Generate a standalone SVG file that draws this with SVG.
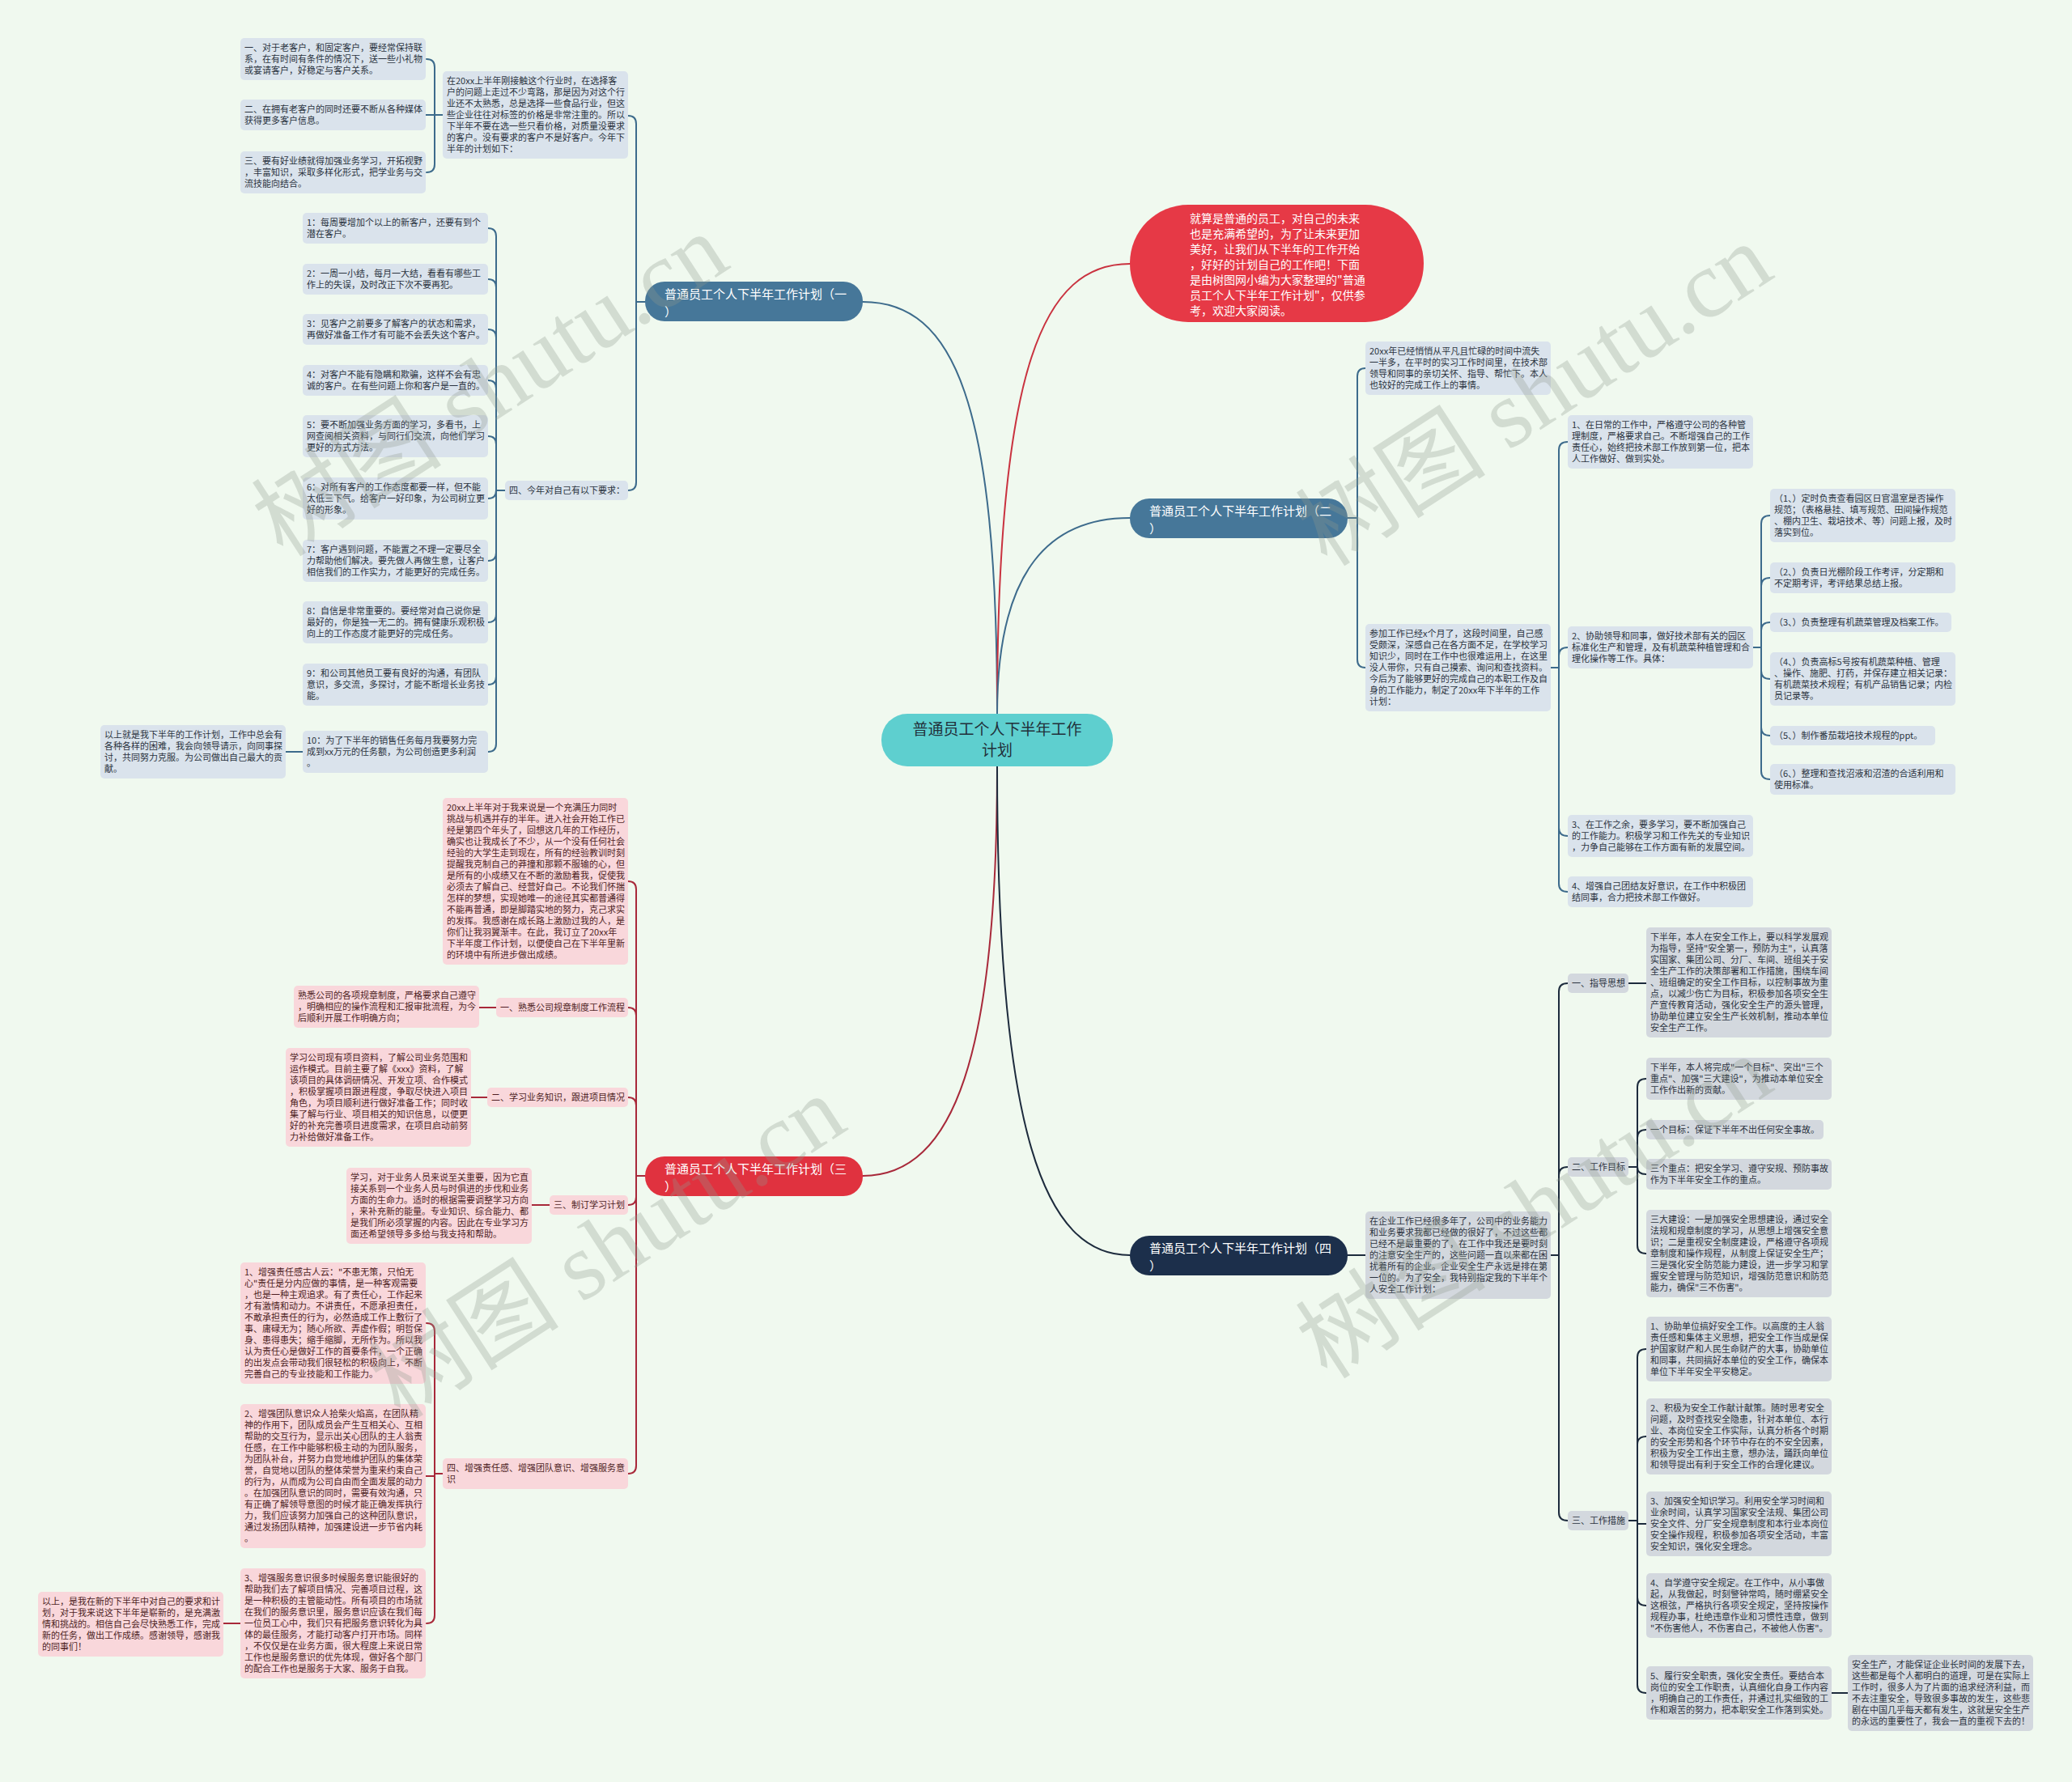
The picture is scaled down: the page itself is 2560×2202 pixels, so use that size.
<svg xmlns="http://www.w3.org/2000/svg" width="2560" height="2202" viewBox="0 0 2560 2202">
<style>
.t{font-family:"Noto Sans CJK SC","Noto Sans",sans-serif;font-size:11px;fill:#2b3340}
.tp{fill:#4e1e24}
.bb{fill:#dae3ec}
.bg{fill:#d3d8de}
.bp{fill:#f9d7db}
.c{fill:none;stroke-width:2;stroke-linecap:round}
.cb{stroke:#3d6b8c}
.cr{stroke:#a8293a}
.cn{stroke:#1d2b3d}
.cred{stroke:#c9323f}
.br{font-family:"Noto Sans CJK SC","Noto Sans",sans-serif;font-size:15px;fill:#ffffff}
.wm{font-family:"Liberation Serif","Noto Sans CJK SC",serif;font-size:118px;fill:#8f9a8f;opacity:.3}
</style>
<rect x="0" y="0" width="2560" height="2202" fill="#f0f9ef"/>

<g id="connectors">
<path class="c cb" d="M1232,882 C1232,500 1180,373 1066,373"/>
<path class="c cred" d="M1232,882 C1232,450 1290,326 1396,326"/>
<path class="c cb" d="M1232,882 C1232,700 1300,640 1396,640"/>
<path class="c cr" d="M1232,947 C1232,1300 1180,1453 1066,1453"/>
<path class="c cn" d="M1232,947 C1232,1400 1290,1551 1396,1551"/>

<path class="c cb" d="M797,373 H786 V153 Q786,143 776,143"/>
<path class="c cb" d="M786,373 V596 Q786,606 776,606"/>
<path class="c cb" d="M547,142 H537 V83 Q537,73 527,73"/>
<path class="c cb" d="M537,142 H526"/>
<path class="c cb" d="M537,142 V203 Q537,213 527,213"/>
<path class="c cb" d="M624,606 H613 V292 Q613,282 603,282"/>
<path class="c cb" d="M613,606 V355 Q613,345 603,345"/>
<path class="c cb" d="M613,606 V417 Q613,407 603,407"/>
<path class="c cb" d="M613,606 V480 Q613,470 603,470"/>
<path class="c cb" d="M613,606 V549 Q613,539 603,539"/>
<path class="c cb" d="M613,606 Q613,616 603,616"/>
<path class="c cb" d="M613,606 V683 Q613,693 603,693"/>
<path class="c cb" d="M613,606 V759 Q613,769 603,769"/>
<path class="c cb" d="M613,606 V836 Q613,846 603,846"/>
<path class="c cb" d="M613,606 V919 Q613,929 603,929"/>
<path class="c cb" d="M374,929 H353"/>

<path class="c cr" d="M797,1453 H786 V1099 Q786,1089 776,1089"/>
<path class="c cr" d="M786,1453 V1255 Q786,1245 776,1245"/>
<path class="c cr" d="M786,1453 V1366 Q786,1356 776,1356"/>
<path class="c cr" d="M786,1453 V1479 Q786,1489 776,1489"/>
<path class="c cr" d="M786,1453 V1811 Q786,1821 776,1821"/>
<path class="c cr" d="M613,1245 H592"/>
<path class="c cr" d="M602,1356 H582"/>
<path class="c cr" d="M679,1489 H657"/>
<path class="c cr" d="M547,1821 H537 V1645 Q537,1635 527,1635"/>
<path class="c cr" d="M537,1821 V1824 H526"/>
<path class="c cr" d="M537,1821 V1996 Q537,2006 527,2006"/>
<path class="c cr" d="M297,2006 H276"/>

<path class="c cb" d="M1665,640 H1677 V465 Q1677,455 1687,455"/>
<path class="c cb" d="M1677,640 V815 Q1677,825 1687,825"/>
<path class="c cb" d="M1916,825 H1926 V556 Q1926,546 1937,546"/>
<path class="c cb" d="M1926,825 V810 Q1926,800 1937,800"/>
<path class="c cb" d="M1926,825 V1023 Q1926,1033 1937,1033"/>
<path class="c cb" d="M1926,825 V1092 Q1926,1102 1937,1102"/>
<path class="c cb" d="M2166,800 H2176 V647 Q2176,637 2187,637"/>
<path class="c cb" d="M2176,800 V724 Q2176,714 2187,714"/>
<path class="c cb" d="M2176,800 V779 Q2176,769 2187,769"/>
<path class="c cb" d="M2176,800 V829 Q2176,839 2187,839"/>
<path class="c cb" d="M2176,800 V899 Q2176,909 2187,909"/>
<path class="c cb" d="M2176,800 V953 Q2176,963 2187,963"/>

<path class="c cn" d="M1665,1551 H1687"/>
<path class="c cn" d="M1916,1551 H1926 V1225 Q1926,1215 1937,1215"/>
<path class="c cn" d="M1926,1551 V1452 Q1926,1442 1937,1442"/>
<path class="c cn" d="M1926,1551 V1869 Q1926,1879 1937,1879"/>
<path class="c cn" d="M2012,1215 H2034"/>
<path class="c cn" d="M2012,1442 H2023 V1343 Q2023,1333 2034,1333"/>
<path class="c cn" d="M2023,1442 V1406 Q2023,1396 2034,1396"/>
<path class="c cn" d="M2023,1442 Q2023,1451 2034,1451"/>
<path class="c cn" d="M2023,1442 V1539 Q2023,1549 2034,1549"/>
<path class="c cn" d="M2012,1879 H2023 V1677 Q2023,1667 2034,1667"/>
<path class="c cn" d="M2023,1879 V1785 Q2023,1775 2034,1775"/>
<path class="c cn" d="M2023,1879 V1883 H2034"/>
<path class="c cn" d="M2023,1879 V1974 Q2023,1984 2034,1984"/>
<path class="c cn" d="M2023,1879 V2082 Q2023,2092 2034,2092"/>
<path class="c cn" d="M2263,2092 H2283"/>
</g>

<g id="center"><rect x="1089" y="882" width="286" height="65" rx="32" fill="#5ecfcf"/>
<text x="1232" y="908" text-anchor="middle" style="font-family:'Noto Sans CJK SC',sans-serif;font-size:19px;fill:#22303a"><tspan x="1232">普通员工个人下半年工作</tspan><tspan x="1232" dy="26">计划</tspan></text></g>

<g id="intro"><rect x="1396" y="253" width="363" height="145" rx="72" fill="#e63946"/>
<text x="1470" y="275" style="font-family:'Noto Sans CJK SC',sans-serif;font-size:14px;fill:#ffffff"><tspan x="1470">就算是普通的员工，对自己的未来</tspan><tspan x="1470" dy="19">也是充满希望的，为了让未来更加</tspan><tspan x="1470" dy="19">美好，让我们从下半年的工作开始</tspan><tspan x="1470" dy="19">，好好的计划自己的工作吧！下面</tspan><tspan x="1470" dy="19">是由树图网小编为大家整理的"普通</tspan><tspan x="1470" dy="19">员工个人下半年工作计划"，仅供参</tspan><tspan x="1470" dy="19">考，欢迎大家阅读。</tspan></text></g>

<g id="branch1"><rect x="797" y="348" width="269" height="49" rx="24" fill="#467799"/>
<text class="br" x="821" y="369"><tspan x="821">普通员工个人下半年工作计划（一</tspan><tspan x="821" dy="22">）</tspan></text></g>
<g id="branch2"><rect x="1396" y="616" width="269" height="49" rx="24" fill="#467799"/>
<text class="br" x="1420" y="637"><tspan x="1420">普通员工个人下半年工作计划（二</tspan><tspan x="1420" dy="22">）</tspan></text></g>
<g id="branch3"><rect x="797" y="1429" width="269" height="49" rx="24" fill="#e0323f"/>
<text class="br" x="821" y="1450"><tspan x="821">普通员工个人下半年工作计划（三</tspan><tspan x="821" dy="22">）</tspan></text></g>
<g id="branch4"><rect x="1396" y="1527" width="269" height="49" rx="24" fill="#1c2f4b"/>
<text class="br" x="1420" y="1548"><tspan x="1420">普通员工个人下半年工作计划（四</tspan><tspan x="1420" dy="22">）</tspan></text></g>

<!-- Section 1 -->
<g id="s1-a0"><rect class="bb" x="547" y="88" width="229" height="108" rx="5"/>
<text class="t" x="552" y="104"><tspan x="552">在20xx上半年刚接触这个行业时，在选择客</tspan><tspan x="552" dy="14">户的问题上走过不少弯路，那是因为对这个行</tspan><tspan x="552" dy="14">业还不太熟悉，总是选择一些食品行业，但这</tspan><tspan x="552" dy="14">些企业往往对标签的价格是非常注重的。所以</tspan><tspan x="552" dy="14">下半年不要在选一些只看价格，对质量没要求</tspan><tspan x="552" dy="14">的客户。没有要求的客户不是好客户。今年下</tspan><tspan x="552" dy="14">半年的计划如下：</tspan></text></g>
<g id="s1-a1"><rect class="bb" x="297" y="47" width="229" height="52" rx="5"/>
<text class="t" x="302" y="63"><tspan x="302">一、对于老客户，和固定客户，要经常保持联</tspan><tspan x="302" dy="14">系，在有时间有条件的情况下，送一些小礼物</tspan><tspan x="302" dy="14">或宴请客户，好稳定与客户关系。</tspan></text></g>
<g id="s1-a2"><rect class="bb" x="297" y="123" width="229" height="38" rx="5"/>
<text class="t" x="302" y="139"><tspan x="302">二、在拥有老客户的同时还要不断从各种媒体</tspan><tspan x="302" dy="14">获得更多客户信息。</tspan></text></g>
<g id="s1-a3"><rect class="bb" x="297" y="187" width="229" height="52" rx="5"/>
<text class="t" x="302" y="203"><tspan x="302">三、要有好业绩就得加强业务学习，开拓视野</tspan><tspan x="302" dy="14">，丰富知识，采取多样化形式，把学业务与交</tspan><tspan x="302" dy="14">流技能向结合。</tspan></text></g>
<g id="s1-l4"><rect class="bb" x="624" y="594" width="152" height="24" rx="5"/>
<text class="t" x="629" y="610">四、今年对自己有以下要求：</text></g>
<g id="s1-i1"><rect class="bb" x="374" y="263" width="229" height="38" rx="5"/>
<text class="t" x="379" y="279"><tspan x="379">1：每周要增加个以上的新客户，还要有到个</tspan><tspan x="379" dy="14">潜在客户。</tspan></text></g>
<g id="s1-i2"><rect class="bb" x="374" y="326" width="229" height="38" rx="5"/>
<text class="t" x="379" y="342"><tspan x="379">2：一周一小结，每月一大结，看看有哪些工</tspan><tspan x="379" dy="14">作上的失误，及时改正下次不要再犯。</tspan></text></g>
<g id="s1-i3"><rect class="bb" x="374" y="388" width="229" height="38" rx="5"/>
<text class="t" x="379" y="404"><tspan x="379">3：见客户之前要多了解客户的状态和需求，</tspan><tspan x="379" dy="14">再做好准备工作才有可能不会丢失这个客户。</tspan></text></g>
<g id="s1-i4"><rect class="bb" x="374" y="451" width="229" height="38" rx="5"/>
<text class="t" x="379" y="467"><tspan x="379">4：对客户不能有隐瞒和欺骗，这样不会有忠</tspan><tspan x="379" dy="14">诚的客户。在有些问题上你和客户是一直的。</tspan></text></g>
<g id="s1-i5"><rect class="bb" x="374" y="513" width="229" height="52" rx="5"/>
<text class="t" x="379" y="529"><tspan x="379">5：要不断加强业务方面的学习，多看书，上</tspan><tspan x="379" dy="14">网查阅相关资料，与同行们交流，向他们学习</tspan><tspan x="379" dy="14">更好的方式方法。</tspan></text></g>
<g id="s1-i6"><rect class="bb" x="374" y="590" width="229" height="52" rx="5"/>
<text class="t" x="379" y="606"><tspan x="379">6：对所有客户的工作态度都要一样，但不能</tspan><tspan x="379" dy="14">太低三下气。给客户一好印象，为公司树立更</tspan><tspan x="379" dy="14">好的形象。</tspan></text></g>
<g id="s1-i7"><rect class="bb" x="374" y="667" width="229" height="52" rx="5"/>
<text class="t" x="379" y="683"><tspan x="379">7：客户遇到问题，不能置之不理一定要尽全</tspan><tspan x="379" dy="14">力帮助他们解决。要先做人再做生意，让客户</tspan><tspan x="379" dy="14">相信我们的工作实力，才能更好的完成任务。</tspan></text></g>
<g id="s1-i8"><rect class="bb" x="374" y="743" width="229" height="52" rx="5"/>
<text class="t" x="379" y="759"><tspan x="379">8：自信是非常重要的。要经常对自己说你是</tspan><tspan x="379" dy="14">最好的，你是独一无二的。拥有健康乐观积极</tspan><tspan x="379" dy="14">向上的工作态度才能更好的完成任务。</tspan></text></g>
<g id="s1-i9"><rect class="bb" x="374" y="820" width="229" height="52" rx="5"/>
<text class="t" x="379" y="836"><tspan x="379">9：和公司其他员工要有良好的沟通，有团队</tspan><tspan x="379" dy="14">意识，多交流，多探讨，才能不断增长业务技</tspan><tspan x="379" dy="14">能。</tspan></text></g>
<g id="s1-i10"><rect class="bb" x="374" y="903" width="229" height="52" rx="5"/>
<text class="t" x="379" y="919"><tspan x="379">10：为了下半年的销售任务每月我要努力完</tspan><tspan x="379" dy="14">成到xx万元的任务额，为公司创造更多利润</tspan><tspan x="379" dy="14">。</tspan></text></g>
<g id="s1-f"><rect class="bb" x="124" y="896" width="229" height="66" rx="5"/>
<text class="t" x="129" y="912"><tspan x="129">以上就是我下半年的工作计划，工作中总会有</tspan><tspan x="129" dy="14">各种各样的困难，我会向领导请示，向同事探</tspan><tspan x="129" dy="14">讨，共同努力克服。为公司做出自己最大的贡</tspan><tspan x="129" dy="14">献。</tspan></text></g>

<!-- Section 3 -->
<g id="s3-p0"><rect class="bp" x="547" y="986" width="229" height="206" rx="5"/>
<text class="t tp" x="552" y="1002"><tspan x="552">20xx上半年对于我来说是一个充满压力同时</tspan><tspan x="552" dy="14">挑战与机遇并存的半年。进入社会开始工作已</tspan><tspan x="552" dy="14">经是第四个年头了，回想这几年的工作经历，</tspan><tspan x="552" dy="14">确实也让我成长了不少，从一个没有任何社会</tspan><tspan x="552" dy="14">经验的大学生走到现在，所有的经验教训时刻</tspan><tspan x="552" dy="14">提醒我克制自己的莽撞和那颗不服输的心，但</tspan><tspan x="552" dy="14">是所有的小成绩又在不断的激励着我，促使我</tspan><tspan x="552" dy="14">必须去了解自己、经营好自己。不论我们怀揣</tspan><tspan x="552" dy="14">怎样的梦想，实现她唯一的途径其实都普通得</tspan><tspan x="552" dy="14">不能再普通，即是脚踏实地的努力，克己求实</tspan><tspan x="552" dy="14">的发挥。我感谢在成长路上激励过我的人，是</tspan><tspan x="552" dy="14">你们让我羽翼渐丰。在此，我订立了20xx年</tspan><tspan x="552" dy="14">下半年度工作计划，以便使自己在下半年里新</tspan><tspan x="552" dy="14">的环境中有所进步做出成绩。</tspan></text></g>
<g id="s3-l1"><rect class="bp" x="613" y="1233" width="163" height="24" rx="5"/>
<text class="t tp" x="618" y="1249">一、熟悉公司规章制度工作流程</text></g>
<g id="s3-b1"><rect class="bp" x="363" y="1218" width="229" height="52" rx="5"/>
<text class="t tp" x="368" y="1234"><tspan x="368">熟悉公司的各项规章制度，严格要求自己遵守</tspan><tspan x="368" dy="14">，明确相应的操作流程和汇报审批流程，为今</tspan><tspan x="368" dy="14">后顺利开展工作明确方向；</tspan></text></g>
<g id="s3-l2"><rect class="bp" x="602" y="1344" width="174" height="24" rx="5"/>
<text class="t tp" x="607" y="1360">二、学习业务知识，跟进项目情况</text></g>
<g id="s3-b2"><rect class="bp" x="353" y="1295" width="229" height="122" rx="5"/>
<text class="t tp" x="358" y="1311"><tspan x="358">学习公司现有项目资料，了解公司业务范围和</tspan><tspan x="358" dy="14">运作模式。目前主要了解《xxx》资料，了解</tspan><tspan x="358" dy="14">该项目的具体调研情况、开发立项、合作模式</tspan><tspan x="358" dy="14">，积极掌握项目跟进程度，争取尽快进入项目</tspan><tspan x="358" dy="14">角色，为项目顺利进行做好准备工作；同时收</tspan><tspan x="358" dy="14">集了解与行业、项目相关的知识信息，以便更</tspan><tspan x="358" dy="14">好的补充完善项目进度需求，在项目启动前努</tspan><tspan x="358" dy="14">力补给做好准备工作。</tspan></text></g>
<g id="s3-l3"><rect class="bp" x="679" y="1477" width="97" height="24" rx="5"/>
<text class="t tp" x="684" y="1493">三、制订学习计划</text></g>
<g id="s3-b3"><rect class="bp" x="428" y="1443" width="229" height="94" rx="5"/>
<text class="t tp" x="433" y="1459"><tspan x="433">学习，对于业务人员来说至关重要，因为它直</tspan><tspan x="433" dy="14">接关系到一个业务人员与时俱进的步伐和业务</tspan><tspan x="433" dy="14">方面的生命力。适时的根据需要调整学习方向</tspan><tspan x="433" dy="14">，来补充新的能量。专业知识、综合能力、都</tspan><tspan x="433" dy="14">是我们所必须掌握的内容。因此在专业学习方</tspan><tspan x="433" dy="14">面还希望领导多多给与我支持和帮助。</tspan></text></g>
<g id="s3-l4"><rect class="bp" x="547" y="1802" width="229" height="38" rx="5"/>
<text class="t tp" x="552" y="1818"><tspan x="552">四、增强责任感、增强团队意识、增强服务意</tspan><tspan x="552" dy="14">识</tspan></text></g>
<g id="s3-i1"><rect class="bp" x="297" y="1560" width="229" height="150" rx="5"/>
<text class="t tp" x="302" y="1576"><tspan x="302">1、增强责任感古人云："不患无策，只怕无</tspan><tspan x="302" dy="14">心"责任是分内应做的事情，是一种客观需要</tspan><tspan x="302" dy="14">，也是一种主观追求。有了责任心，工作起来</tspan><tspan x="302" dy="14">才有激情和动力。不讲责任，不愿承担责任，</tspan><tspan x="302" dy="14">不敢承担责任的行为，必然造成工作上敷衍了</tspan><tspan x="302" dy="14">事、庸碌无为；随心所欲、弄虚作假；明哲保</tspan><tspan x="302" dy="14">身、患得患失；缩手缩脚，无所作为。所以我</tspan><tspan x="302" dy="14">认为责任心是做好工作的首要条件，一个正确</tspan><tspan x="302" dy="14">的出发点会带动我们很轻松的积极向上，不断</tspan><tspan x="302" dy="14">完善自己的专业技能和工作能力。</tspan></text></g>
<g id="s3-i2"><rect class="bp" x="297" y="1735" width="229" height="178" rx="5"/>
<text class="t tp" x="302" y="1751"><tspan x="302">2、增强团队意识众人拾柴火焰高，在团队精</tspan><tspan x="302" dy="14">神的作用下，团队成员会产生互相关心、互相</tspan><tspan x="302" dy="14">帮助的交互行为，显示出关心团队的主人翁责</tspan><tspan x="302" dy="14">任感，在工作中能够积极主动的为团队服务，</tspan><tspan x="302" dy="14">为团队补台，并努力自觉地维护团队的集体荣</tspan><tspan x="302" dy="14">誉，自觉地以团队的整体荣誉为重来约束自己</tspan><tspan x="302" dy="14">的行为，从而成为公司自由而全面发展的动力</tspan><tspan x="302" dy="14">。在加强团队意识的同时，需要有效沟通，只</tspan><tspan x="302" dy="14">有正确了解领导意图的时候才能正确发挥执行</tspan><tspan x="302" dy="14">力，我们应该努力加强自己的这种团队意识，</tspan><tspan x="302" dy="14">通过发扬团队精神，加强建设进一步节省内耗</tspan><tspan x="302" dy="14">。</tspan></text></g>
<g id="s3-i3"><rect class="bp" x="297" y="1938" width="229" height="136" rx="5"/>
<text class="t tp" x="302" y="1954"><tspan x="302">3、增强服务意识很多时候服务意识能很好的</tspan><tspan x="302" dy="14">帮助我们去了解项目情况、完善项目过程，这</tspan><tspan x="302" dy="14">是一种积极的主管能动性。所有项目的市场就</tspan><tspan x="302" dy="14">在我们的服务意识里，服务意识应该在我们每</tspan><tspan x="302" dy="14">一位员工心中，我们只有把服务意识转化为具</tspan><tspan x="302" dy="14">体的最佳服务，才能打动客户打开市场。同样</tspan><tspan x="302" dy="14">，不仅仅是在业务方面，很大程度上来说日常</tspan><tspan x="302" dy="14">工作也是服务意识的优先体现，做好各个部门</tspan><tspan x="302" dy="14">的配合工作也是服务于大家、服务于自我。</tspan></text></g>
<g id="s3-f"><rect class="bp" x="47" y="1967" width="229" height="80" rx="5"/>
<text class="t tp" x="52" y="1983"><tspan x="52">以上，是我在新的下半年中对自己的要求和计</tspan><tspan x="52" dy="14">划，对于我来说这下半年是崭新的，是充满激</tspan><tspan x="52" dy="14">情和挑战的。相信自己会尽快熟悉工作，完成</tspan><tspan x="52" dy="14">新的任务，做出工作成绩。感谢领导，感谢我</tspan><tspan x="52" dy="14">的同事们！</tspan></text></g>

<!-- Section 2 -->
<g id="s2-intro"><rect class="bb" x="1687" y="422" width="229" height="66" rx="5"/>
<text class="t" x="1692" y="438"><tspan x="1692">20xx年已经悄悄从平凡且忙碌的时间中流失</tspan><tspan x="1692" dy="14">一半多，在平时的实习工作时间里，在技术部</tspan><tspan x="1692" dy="14">领导和同事的亲切关怀、指导、帮忙下。本人</tspan><tspan x="1692" dy="14">也较好的完成工作上的事情。</tspan></text></g>
<g id="s2-p"><rect class="bb" x="1687" y="771" width="229" height="108" rx="5"/>
<text class="t" x="1692" y="787"><tspan x="1692">参加工作已经x个月了，这段时间里，自己感</tspan><tspan x="1692" dy="14">受颇深，深感自己在各方面不足，在学校学习</tspan><tspan x="1692" dy="14">知识少，同时在工作中也很难运用上，在这里</tspan><tspan x="1692" dy="14">没人带你，只有自己摸索、询问和查找资料。</tspan><tspan x="1692" dy="14">今后为了能够更好的完成自己的本职工作及自</tspan><tspan x="1692" dy="14">身的工作能力，制定了20xx年下半年的工作</tspan><tspan x="1692" dy="14">计划：</tspan></text></g>
<g id="s2-b1"><rect class="bb" x="1937" y="513" width="229" height="66" rx="5"/>
<text class="t" x="1942" y="529"><tspan x="1942">1、在日常的工作中，严格遵守公司的各种管</tspan><tspan x="1942" dy="14">理制度，严格要求自己。不断增强自己的工作</tspan><tspan x="1942" dy="14">责任心，始终把技术部工作放到第一位，把本</tspan><tspan x="1942" dy="14">人工作做好、做到实处。</tspan></text></g>
<g id="s2-b2"><rect class="bb" x="1937" y="774" width="229" height="52" rx="5"/>
<text class="t" x="1942" y="790"><tspan x="1942">2、协助领导和同事，做好技术部有关的园区</tspan><tspan x="1942" dy="14">标准化生产和管理，及有机蔬菜种植管理和合</tspan><tspan x="1942" dy="14">理化操作等工作。具体：</tspan></text></g>
<g id="s2-b3"><rect class="bb" x="1937" y="1007" width="229" height="52" rx="5"/>
<text class="t" x="1942" y="1023"><tspan x="1942">3、在工作之余，要多学习，要不断加强自己</tspan><tspan x="1942" dy="14">的工作能力。积极学习和工作先关的专业知识</tspan><tspan x="1942" dy="14">，力争自己能够在工作方面有新的发展空间。</tspan></text></g>
<g id="s2-b4"><rect class="bb" x="1937" y="1083" width="229" height="38" rx="5"/>
<text class="t" x="1942" y="1099"><tspan x="1942">4、增强自己团结友好意识，在工作中积极团</tspan><tspan x="1942" dy="14">结同事，合力把技术部工作做好。</tspan></text></g>
<g id="s2-c1"><rect class="bb" x="2187" y="604" width="229" height="66" rx="5"/>
<text class="t" x="2192" y="620"><tspan x="2192">（1、）定时负责查看园区日官温室是否操作</tspan><tspan x="2192" dy="14">规范；（表格悬挂、填写规范、田间操作规范</tspan><tspan x="2192" dy="14">、棚内卫生、栽培技术、等）问题上报，及时</tspan><tspan x="2192" dy="14">落实到位。</tspan></text></g>
<g id="s2-c2"><rect class="bb" x="2187" y="695" width="229" height="38" rx="5"/>
<text class="t" x="2192" y="711"><tspan x="2192">（2、）负责日光棚阶段工作考评，分定期和</tspan><tspan x="2192" dy="14">不定期考评，考评结果总结上报。</tspan></text></g>
<g id="s2-c3"><rect class="bb" x="2187" y="757" width="224" height="24" rx="5"/>
<text class="t" x="2192" y="773">（3、）负责整理有机蔬菜管理及档案工作。</text></g>
<g id="s2-c4"><rect class="bb" x="2187" y="806" width="229" height="66" rx="5"/>
<text class="t" x="2192" y="822"><tspan x="2192">（4、）负责高标5号按有机蔬菜种植、管理</tspan><tspan x="2192" dy="14">、操作、施肥、打药，并保存建立相关记录：</tspan><tspan x="2192" dy="14">有机蔬菜技术规程；有机产品销售记录；内检</tspan><tspan x="2192" dy="14">员记录等。</tspan></text></g>
<g id="s2-c5"><rect class="bb" x="2187" y="897" width="204" height="24" rx="5"/>
<text class="t" x="2192" y="913">（5、）制作番茄栽培技术规程的ppt。</text></g>
<g id="s2-c6"><rect class="bb" x="2187" y="944" width="229" height="38" rx="5"/>
<text class="t" x="2192" y="960"><tspan x="2192">（6、）整理和查找沼液和沼渣的合适利用和</tspan><tspan x="2192" dy="14">使用标准。</tspan></text></g>

<!-- Section 4 -->
<g id="s4-intro"><rect class="bg" x="1687" y="1497" width="229" height="108" rx="5"/>
<text class="t" x="1692" y="1513"><tspan x="1692">在企业工作已经很多年了，公司中的业务能力</tspan><tspan x="1692" dy="14">和业务要求我都已经做的很好了，不过这些都</tspan><tspan x="1692" dy="14">已经不是最重要的了，在工作中我还是要时刻</tspan><tspan x="1692" dy="14">的注意安全生产的，这些问题一直以来都在困</tspan><tspan x="1692" dy="14">扰着所有的企业。企业安全生产永远是排在第</tspan><tspan x="1692" dy="14">一位的。为了安全，我特别指定我的下半年个</tspan><tspan x="1692" dy="14">人安全工作计划：</tspan></text></g>
<g id="s4-l1"><rect class="bg" x="1937" y="1203" width="75" height="24" rx="5"/>
<text class="t" x="1942" y="1219">一、指导思想</text></g>
<g id="s4-g1"><rect class="bg" x="2034" y="1146" width="229" height="136" rx="5"/>
<text class="t" x="2039" y="1162"><tspan x="2039">下半年，本人在安全工作上，要以科学发展观</tspan><tspan x="2039" dy="14">为指导，坚持"安全第一，预防为主"，认真落</tspan><tspan x="2039" dy="14">实国家、集团公司、分厂、车间、班组关于安</tspan><tspan x="2039" dy="14">全生产工作的决策部署和工作措施，围绕车间</tspan><tspan x="2039" dy="14">、班组确定的安全工作目标，以控制事故为重</tspan><tspan x="2039" dy="14">点，以减少伤亡为目标，积极参加各项安全生</tspan><tspan x="2039" dy="14">产宣传教育活动，强化安全生产的源头管理，</tspan><tspan x="2039" dy="14">协助单位建立安全生产长效机制，推动本单位</tspan><tspan x="2039" dy="14">安全生产工作。</tspan></text></g>
<g id="s4-l2"><rect class="bg" x="1937" y="1430" width="75" height="24" rx="5"/>
<text class="t" x="1942" y="1446">二、工作目标</text></g>
<g id="s4-g2a"><rect class="bg" x="2034" y="1307" width="229" height="52" rx="5"/>
<text class="t" x="2039" y="1323"><tspan x="2039">下半年，本人将完成"一个目标"、突出"三个</tspan><tspan x="2039" dy="14">重点"、加强"三大建设"，为推动本单位安全</tspan><tspan x="2039" dy="14">工作作出新的贡献。</tspan></text></g>
<g id="s4-g2b"><rect class="bg" x="2034" y="1384" width="219" height="24" rx="5"/>
<text class="t" x="2039" y="1400">一个目标：保证下半年不出任何安全事故。</text></g>
<g id="s4-g2c"><rect class="bg" x="2034" y="1432" width="229" height="38" rx="5"/>
<text class="t" x="2039" y="1448"><tspan x="2039">三个重点：把安全学习、遵守安规、预防事故</tspan><tspan x="2039" dy="14">作为下半年安全工作的重点。</tspan></text></g>
<g id="s4-g2d"><rect class="bg" x="2034" y="1495" width="229" height="108" rx="5"/>
<text class="t" x="2039" y="1511"><tspan x="2039">三大建设：一是加强安全思想建设，通过安全</tspan><tspan x="2039" dy="14">法规和规章制度的学习，从思想上增强安全意</tspan><tspan x="2039" dy="14">识；二是重视安全制度建设，严格遵守各项规</tspan><tspan x="2039" dy="14">章制度和操作规程，从制度上保证安全生产；</tspan><tspan x="2039" dy="14">三是强化安全防范能力建设，进一步学习和掌</tspan><tspan x="2039" dy="14">握安全管理与防范知识，增强防范意识和防范</tspan><tspan x="2039" dy="14">能力，确保"三不伤害"。</tspan></text></g>
<g id="s4-l3"><rect class="bg" x="1937" y="1867" width="75" height="24" rx="5"/>
<text class="t" x="1942" y="1883">三、工作措施</text></g>
<g id="s4-m1"><rect class="bg" x="2034" y="1627" width="229" height="80" rx="5"/>
<text class="t" x="2039" y="1643"><tspan x="2039">1、协助单位搞好安全工作。以高度的主人翁</tspan><tspan x="2039" dy="14">责任感和集体主义思想，把安全工作当成是保</tspan><tspan x="2039" dy="14">护国家财产和人民生命财产的大事，协助单位</tspan><tspan x="2039" dy="14">和同事，共同搞好本单位的安全工作，确保本</tspan><tspan x="2039" dy="14">单位下半年安全平安稳定。</tspan></text></g>
<g id="s4-m2"><rect class="bg" x="2034" y="1728" width="229" height="94" rx="5"/>
<text class="t" x="2039" y="1744"><tspan x="2039">2、积极为安全工作献计献策。随时思考安全</tspan><tspan x="2039" dy="14">问题，及时查找安全隐患，针对本单位、本行</tspan><tspan x="2039" dy="14">业、本岗位安全工作实际，认真分析各个时期</tspan><tspan x="2039" dy="14">的安全形势和各个环节中存在的不安全因素，</tspan><tspan x="2039" dy="14">积极为安全工作出主意，想办法，踊跃向单位</tspan><tspan x="2039" dy="14">和领导提出有利于安全工作的合理化建议。</tspan></text></g>
<g id="s4-m3"><rect class="bg" x="2034" y="1843" width="229" height="80" rx="5"/>
<text class="t" x="2039" y="1859"><tspan x="2039">3、加强安全知识学习。利用安全学习时间和</tspan><tspan x="2039" dy="14">业余时间，认真学习国家安全法规、集团公司</tspan><tspan x="2039" dy="14">安全文件、分厂安全规章制度和本行业本岗位</tspan><tspan x="2039" dy="14">安全操作规程，积极参加各项安全活动，丰富</tspan><tspan x="2039" dy="14">安全知识，强化安全理念。</tspan></text></g>
<g id="s4-m4"><rect class="bg" x="2034" y="1944" width="229" height="80" rx="5"/>
<text class="t" x="2039" y="1960"><tspan x="2039">4、自学遵守安全规定。在工作中，从小事做</tspan><tspan x="2039" dy="14">起，从我做起，时刻警钟常鸣，随时绷紧安全</tspan><tspan x="2039" dy="14">这根弦，严格执行各项安全规定，坚持按操作</tspan><tspan x="2039" dy="14">规程办事，杜绝违章作业和习惯性违章，做到</tspan><tspan x="2039" dy="14">"不伤害他人，不伤害自己，不被他人伤害"。</tspan></text></g>
<g id="s4-m5"><rect class="bg" x="2034" y="2059" width="229" height="66" rx="5"/>
<text class="t" x="2039" y="2075"><tspan x="2039">5、履行安全职责，强化安全责任。要结合本</tspan><tspan x="2039" dy="14">岗位的安全工作职责，认真细化自身工作内容</tspan><tspan x="2039" dy="14">，明确自己的工作责任，并通过扎实细致的工</tspan><tspan x="2039" dy="14">作和艰苦的努力，把本职安全工作落到实处。</tspan></text></g>
<g id="s4-f"><rect class="bg" x="2283" y="2045" width="229" height="94" rx="5"/>
<text class="t" x="2288" y="2061"><tspan x="2288">安全生产，才能保证企业长时间的发展下去，</tspan><tspan x="2288" dy="14">这些都是每个人都明白的道理，可是在实际上</tspan><tspan x="2288" dy="14">工作时，很多人为了片面的追求经济利益，而</tspan><tspan x="2288" dy="14">不去注重安全，导致很多事故的发生，这些悲</tspan><tspan x="2288" dy="14">剧在中国几乎每天都有发生，这就是安全生产</tspan><tspan x="2288" dy="14">的永远的重要性了，我会一直的重视下去的！</tspan></text></g>

<g id="watermarks">
<text class="wm" transform="translate(350,690) rotate(-33)">树图 shutu.cn</text>
<text class="wm" transform="translate(1640,702) rotate(-33)">树图 shutu.cn</text>
<text class="wm" transform="translate(495,1755) rotate(-33)">树图 shutu.cn</text>
<text class="wm" transform="translate(1640,1706) rotate(-33)">树图 shutu.cn</text>
</g>
</svg>
